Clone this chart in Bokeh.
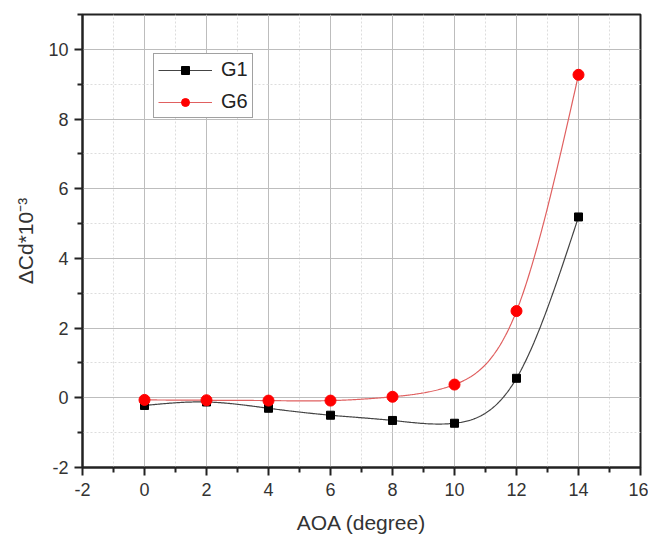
import numpy as np
from bokeh.plotting import figure
from bokeh.models import Range1d, Legend, LegendItem, FixedTicker
from bokeh.embed import file_html
from bokeh.resources import INLINE

aoa = [0, 2, 4, 6, 8, 10, 12, 14]
g1 = [-0.22, -0.12, -0.30, -0.50, -0.65, -0.73, 0.56, 5.19]
g6 = [-0.06, -0.07, -0.08, -0.08, 0.03, 0.38, 2.49, 9.27]
x_ticks = [-2, 0, 2, 4, 6, 8, 10, 12, 14, 16]
y_ticks = [-2, 0, 2, 4, 6, 8, 10]


def natural_spline(x, y, n=400):
    x = np.asarray(x, float)
    y = np.asarray(y, float)
    m = len(x)
    h = np.diff(x)
    A = np.zeros((m, m))
    b = np.zeros(m)
    A[0, 0] = 1
    A[-1, -1] = 1
    for i in range(1, m - 1):
        A[i, i - 1] = h[i - 1]
        A[i, i] = 2 * (h[i - 1] + h[i])
        A[i, i + 1] = h[i]
        b[i] = 6 * ((y[i + 1] - y[i]) / h[i] - (y[i] - y[i - 1]) / h[i - 1])
    M = np.linalg.solve(A, b)
    xs = np.linspace(x[0], x[-1], n)
    ys = np.empty_like(xs)
    for k, xv in enumerate(xs):
        i = min(np.searchsorted(x, xv) - 1, m - 2)
        i = max(i, 0)
        t1 = x[i + 1] - xv
        t0 = xv - x[i]
        ys[k] = (M[i] * t1 ** 3 / (6 * h[i]) + M[i + 1] * t0 ** 3 / (6 * h[i])
                 + (y[i] / h[i] - M[i] * h[i] / 6) * t1
                 + (y[i + 1] / h[i] - M[i + 1] * h[i] / 6) * t0)
    return xs, ys


FONT = "Liberation Sans"

p = figure(width=648, height=536, output_backend="svg", toolbar_location=None,
           x_range=Range1d(-2, 16), y_range=Range1d(-2, 11),
           min_border_left=82, min_border_top=14, min_border_right=8, min_border_bottom=68)

p.outline_line_color = "#222222"
p.outline_line_width = 2
p.background_fill_color = "white"
p.border_fill_color = "white"

for ax in (p.xaxis[0], p.yaxis[0]):
    ax.axis_line_width = 2
    ax.axis_line_color = "#222222"
    ax.major_tick_line_width = 2
    ax.minor_tick_line_width = 2
    ax.major_tick_line_color = "#222222"
    ax.minor_tick_line_color = "#222222"
    ax.major_tick_out = 8
    ax.major_tick_in = 0
    ax.minor_tick_out = 5
    ax.minor_tick_in = 0
    ax.major_label_text_font = FONT
    ax.major_label_text_font_size = "18px"
    ax.major_label_text_color = "#333333"
    ax.axis_label_text_font = FONT
    ax.axis_label_text_font_size = "21px"
    ax.axis_label_text_font_style = "normal"
    ax.axis_label_text_color = "#333333"

p.xaxis.ticker = FixedTicker(ticks=x_ticks, minor_ticks=[v + 1 for v in x_ticks[:-1]])
p.yaxis.ticker = FixedTicker(ticks=y_ticks, minor_ticks=[v + 1 for v in y_ticks])
p.xaxis.major_label_overrides = {v: str(v) for v in x_ticks}
p.yaxis.major_label_overrides = {v: str(v) for v in y_ticks}
p.xaxis.axis_label = "AOA (degree)"
p.yaxis.axis_label = "ΔCd*10⁻³"
p.xaxis.major_label_standoff = 7
p.yaxis.major_label_standoff = 6
p.xaxis.axis_label_standoff = 12
p.yaxis.axis_label_standoff = 8

for g in (p.xgrid[0], p.ygrid[0]):
    g.grid_line_color = "#bdbdbd"
    g.grid_line_width = 1
    g.minor_grid_line_color = "#dddddd"
    g.minor_grid_line_dash = "2 2"
    g.minor_grid_line_width = 1

sx1, sy1 = natural_spline(aoa, g1)
sx6, sy6 = natural_spline(aoa, g6)

l1 = p.line(sx1, sy1, line_color="#444444", line_width=1.2)
m1 = p.scatter(aoa, g1, marker="square", size=8, fill_color="black", line_color="black")
l6 = p.line(sx6, sy6, line_color="#e06060", line_width=1.2)
m6 = p.scatter(aoa, g6, marker="circle", size=11, fill_color="#ff0000", line_color="#ff0000")

legend = Legend(items=[LegendItem(label="G1", renderers=[l1, m1]),
                       LegendItem(label="G6", renderers=[l6, m6])],
                location=(71, 349))
legend.label_text_font = FONT
legend.label_text_font_size = "20px"
legend.label_text_color = "#222222"
legend.border_line_color = "#444444"
legend.border_line_width = 1
legend.glyph_width = 54
legend.glyph_height = 20
legend.label_height = 20
legend.label_standoff = 9
legend.padding = 4
legend.spacing = 9
legend.margin = 0
legend.background_fill_alpha = 1
p.add_layout(legend, "center")

open("out.html", "w").write(file_html(p, INLINE))
